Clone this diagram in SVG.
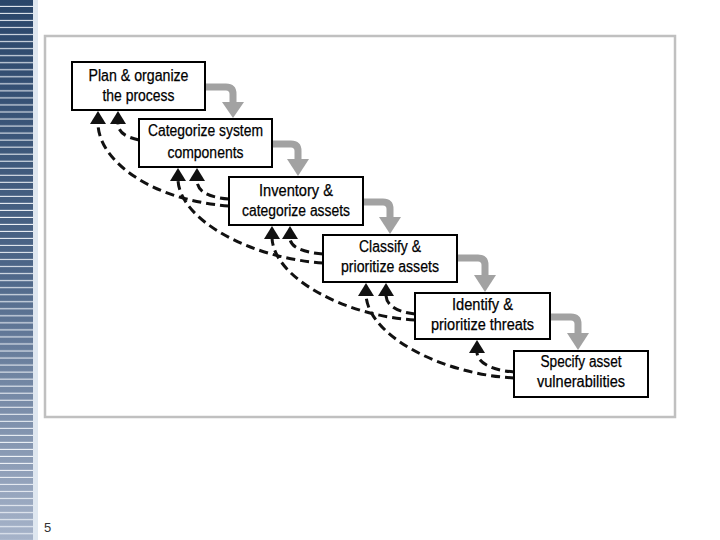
<svg xmlns="http://www.w3.org/2000/svg" width="720" height="540" viewBox="0 0 720 540">
<defs>
<linearGradient id="sg" x1="0" y1="0" x2="0" y2="1">
<stop offset="0" stop-color="#2a466a"/>
<stop offset="0.5" stop-color="#4d6688"/>
<stop offset="1" stop-color="#a6b3c9"/>
</linearGradient>
<pattern id="lines" patternUnits="userSpaceOnUse" width="33" height="7.03">
<rect x="0" y="6" width="33" height="1.1" fill="#eef2f7"/>
</pattern>
<style>
.box{fill:#fff;stroke:#000;stroke-width:2}
.t{font-family:"Liberation Sans",Arial,sans-serif;font-size:16px;fill:#000;text-anchor:middle;stroke:#000;stroke-width:0.25}
.flow{fill:none;stroke:#a2a2a2;stroke-width:7}
.gh{fill:#a2a2a2}
.ret{fill:none;stroke:#111;stroke-width:3;stroke-dasharray:9 5}
.bh{fill:#111}
</style>
</defs>
<rect x="0" y="0" width="33" height="540" fill="url(#sg)"/>
<rect x="0" y="0" width="33" height="540" fill="url(#lines)"/>
<rect x="33" y="0" width="5" height="540" fill="#dfe7f0"/>
<rect x="45" y="36" width="630" height="381" fill="#fff" stroke="#c0c0c0" stroke-width="2.5"/>
<text x="44" y="532" style="font-family:'Liberation Sans',Arial,sans-serif;font-size:13px;fill:#333">5</text>

<g id="connectors">
<path class="flow" d="M205,87 H226 Q233,87 233,94 V104"/>
<polygon class="gh" points="222,102 244,102 233,118"/>
<path class="flow" d="M272,144 H291 Q298,144 298,151 V161"/>
<polygon class="gh" points="287,159 309,159 298,176"/>
<path class="flow" d="M363,202 H383 Q390,202 390,209 V219"/>
<polygon class="gh" points="379,217 401,217 390,234"/>
<path class="flow" d="M457,258 H478 Q485,258 485,265 V276"/>
<polygon class="gh" points="474,275 496,275 485,292"/>
<path class="flow" d="M550,317 H571 Q578,317 578,324 V334"/>
<polygon class="gh" points="567,333 589,333 578,350"/>

<path class="ret" d="M139,140 C125,137 118,132 118,123"/>
<path class="ret" d="M229,199 C205,197 197,190 197,180"/>
<path class="ret" d="M323,254 C300,252 290,246 290,238"/>
<path class="ret" d="M415,314 C395,312 386,304 386,295"/>
<path class="ret" d="M514,372 C490,370 477,362 477,352"/>

<path class="ret" d="M229,206 C150,200 98,160 98,123"/>
<path class="ret" d="M323,263 C250,258 180,220 178,180"/>
<path class="ret" d="M415,320 C345,316 274,278 272,238"/>
<path class="ret" d="M514,378 C440,374 368,335 366,295"/>

<polygon class="bh" points="98,111 90,124 106,124"/>
<polygon class="bh" points="118,111 110,124 126,124"/>
<polygon class="bh" points="178,168 170,181 186,181"/>
<polygon class="bh" points="197,168 189,181 205,181"/>
<polygon class="bh" points="272,226 264,239 280,239"/>
<polygon class="bh" points="290,226 282,239 298,239"/>
<polygon class="bh" points="366,283 358,296 374,296"/>
<polygon class="bh" points="386,283 378,296 394,296"/>
<polygon class="bh" points="477,340 469,353 485,353"/>
</g>

<g id="node1">
<rect class="box" x="72" y="62" width="133" height="48"/>
<text class="t" x="138.5" y="81" textLength="100" lengthAdjust="spacingAndGlyphs">Plan &amp; organize</text>
<text class="t" x="138.5" y="101" textLength="72" lengthAdjust="spacingAndGlyphs">the process</text>
</g>
<g id="node2">
<rect class="box" x="139" y="119" width="133" height="48"/>
<text class="t" x="205.5" y="136" textLength="115" lengthAdjust="spacingAndGlyphs">Categorize system</text>
<text class="t" x="205.5" y="158" textLength="76" lengthAdjust="spacingAndGlyphs">components</text>
</g>
<g id="node3">
<rect class="box" x="229" y="177" width="134" height="48"/>
<text class="t" x="296" y="196" textLength="74" lengthAdjust="spacingAndGlyphs">Inventory &amp;</text>
<text class="t" x="296" y="216" textLength="108" lengthAdjust="spacingAndGlyphs">categorize assets</text>
</g>
<g id="node4">
<rect class="box" x="323" y="235" width="134" height="47"/>
<text class="t" x="390" y="252" textLength="62" lengthAdjust="spacingAndGlyphs">Classify &amp;</text>
<text class="t" x="390" y="272" textLength="98" lengthAdjust="spacingAndGlyphs">prioritize assets</text>
</g>
<g id="node5">
<rect class="box" x="415" y="293" width="135" height="46"/>
<text class="t" x="482.5" y="310" textLength="61" lengthAdjust="spacingAndGlyphs">Identify &amp;</text>
<text class="t" x="482.5" y="330" textLength="103" lengthAdjust="spacingAndGlyphs">prioritize threats</text>
</g>
<g id="node6">
<rect class="box" x="514" y="351" width="134" height="46"/>
<text class="t" x="581" y="367" textLength="81" lengthAdjust="spacingAndGlyphs">Specify asset</text>
<text class="t" x="581" y="387" textLength="88" lengthAdjust="spacingAndGlyphs">vulnerabilities</text>
</g>
</svg>
